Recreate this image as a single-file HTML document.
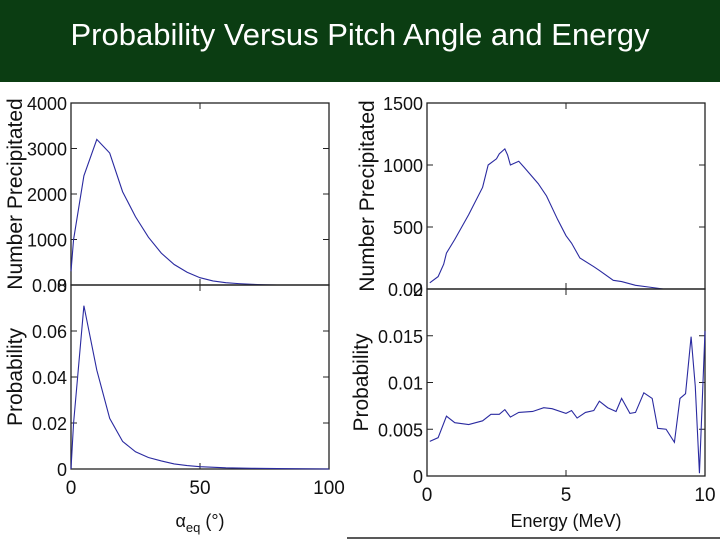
<!DOCTYPE html>
<html><head><meta charset="utf-8">
<style>
html,body{margin:0;padding:0;width:720px;height:540px;overflow:hidden;background:#fff;font-family:"Liberation Sans",sans-serif;}
#hdr{position:absolute;left:0;top:0;width:720px;height:82px;background:#0b3d12;}
#title{position:absolute;left:0;top:17px;width:720px;text-align:center;color:#fff;font-size:31px;}
svg{position:absolute;left:0;top:0;}
</style></head><body>
<div id="hdr"><div id="title">Probability Versus Pitch Angle and Energy</div></div>
<svg id="chart" width="720" height="540"></svg>
<script>
const angleX=[0,1,5,10,15,20,25,30,35,40,45,50,55,60,65,70,75,80,90,100];
const angleCount=[300,1000,2400,3200,2900,2050,1500,1050,700,450,280,160,90,50,30,15,5,0,0,0];
const angleProbX=[0,1,5,10,15,20,25,30,35,40,45,50,60,70,80,100];
const angleProb=[0,0.02,0.071,0.043,0.022,0.012,0.0075,0.005,0.0035,0.0022,0.0015,0.001,0.0005,0.0003,0.0002,0];
const energyX=[0.1,0.4,0.6,0.7,1,1.5,2,2.2,2.5,2.6,2.8,2.9,3,3.1,3.3,3.5,4,4.3,4.7,5,5.2,5.5,6,6.2,6.7,7,7.5,8,8.5,9,10];
const energyCount=[50,100,200,290,400,600,820,1000,1050,1090,1130,1080,1000,1010,1030,980,850,750,560,430,370,250,180,150,70,60,30,15,0,0,0];
const energyProbX=[0.1,0.4,0.7,1,1.5,2,2.3,2.6,2.8,3,3.3,3.8,4.2,4.5,5,5.2,5.4,5.7,6,6.2,6.5,6.8,7,7.3,7.5,7.8,8.1,8.3,8.6,8.9,9.1,9.3,9.5,9.65,9.8,10];
const energyProb=[0.0037,0.0041,0.0064,0.0057,0.0055,0.0059,0.0066,0.0066,0.0071,0.0063,0.0068,0.0069,0.0073,0.0072,0.0067,0.0070,0.0062,0.0068,0.0070,0.0080,0.0073,0.0069,0.0083,0.0067,0.0068,0.0089,0.0083,0.0051,0.0050,0.0036,0.0083,0.0088,0.0149,0.0096,0.0003,0.0155];
const leftTopTicks=[0,1000,2000,3000,4000], leftTopLabels=["0","1000","2000","3000","4000"];
const leftBotTicks=[0,0.02,0.04,0.06], leftBotLabels=["0","0.02","0.04","0.06"];
const rightTopTicks=[0,500,1000,1500], rightTopLabels=["0","500","1000","1500"];
const rightBotTicks=[0,0.005,0.01,0.015], rightBotLabels=["0","0.005","0.01","0.015"];
const angleTicks=[0,50,100], energyTicks=[0,5,10];

const NS="http://www.w3.org/2000/svg";
const svg=document.getElementById('chart');
function mk(tag,at,parent){const e=document.createElementNS(NS,tag);for(const k in at)e.setAttribute(k,at[k]);(parent||svg).appendChild(e);return e;}
function txt(s,x,y,anchor,size,rot){const t=mk('text',{x:x,y:y,'text-anchor':anchor,'font-size':size,fill:'#111','font-family':'Liberation Sans, sans-serif'});if(rot)t.setAttribute('transform','rotate(-90 '+x+' '+y+')');t.textContent=s;return t;}

function panel(name,x0,x1,y0,y1,xmin,xmax,ymin,ymax,xs,ys,yt,yl,xt,showX,ytitle,topLabel,titleX){
  const sx=v=>x0+(v-xmin)/(xmax-xmin)*(x1-x0);
  const sy=v=>y1-(v-ymin)/(ymax-ymin)*(y1-y0);
  const g=mk('g',{});
  
  
  const r=mk('rect',{x:x0,y:y0,width:x1-x0,height:y1-y0,fill:'none',stroke:'#222','stroke-width':1.3},g);
  
  
  yt.forEach((v,i)=>{
    mk('line',{x1:x0,x2:x0+6,y1:sy(v),y2:sy(v),stroke:'#222'},g);
    mk('line',{x1:x1,x2:x1-6,y1:sy(v),y2:sy(v),stroke:'#222'},g);
    const t=txt(yl[i],x0-4,sy(v)+7,'end',18);
    
    
  });
  if(topLabel){const t=txt(topLabel,x0-4,y0+7,'end',18);}
  xt.forEach(v=>{
    mk('line',{x1:sx(v),x2:sx(v),y1:y1,y2:y1-6,stroke:'#222'},g);
    mk('line',{x1:sx(v),x2:sx(v),y1:y0,y2:y0+6,stroke:'#222'},g);
    if(showX){const t=txt(String(v),sx(v),y1+25,'middle',19);}
  });
  const p=mk('polyline',{points:xs.map((v,i)=>sx(v)+','+sy(ys[i])).join(' '),fill:'none',stroke:'#2a2aa0','stroke-width':1.1},g);
  
  
  const yt2=txt(ytitle,titleX,(y0+y1)/2,'middle',21,true);
  
  
}
panel('angle-count-panel',71,329,103,285,0,100,0,4000,angleX,angleCount,leftTopTicks,leftTopLabels,angleTicks,false,'Number Precipitated',null,22);
panel('angle-prob-panel',71,329,285,469,0,100,0,0.08,angleProbX,angleProb,leftBotTicks,leftBotLabels,angleTicks,true,'Probability','0.08',22);
panel('energy-count-panel',427,705,103,289,0,10,0,1500,energyX,energyCount,rightTopTicks,rightTopLabels,energyTicks,false,'Number Precipitated',null,374);
panel('energy-prob-panel',427,705,289,476,0,10,0,0.02,energyProbX,energyProb,rightBotTicks,rightBotLabels,energyTicks,true,'Probability','0.02',368);
const xl=mk('text',{x:200,y:527,'text-anchor':'middle','font-size':18,fill:'#111'});


xl.innerHTML='α<tspan font-size="13" dy="5">eq</tspan><tspan dy="-5"> (°)</tspan>';
const el=txt('Energy (MeV)',566,527,'middle',18);


const bl=mk('line',{x1:347,x2:720,y1:538,y2:538,stroke:'#222','stroke-width':1.5});


</script>
</body></html>
